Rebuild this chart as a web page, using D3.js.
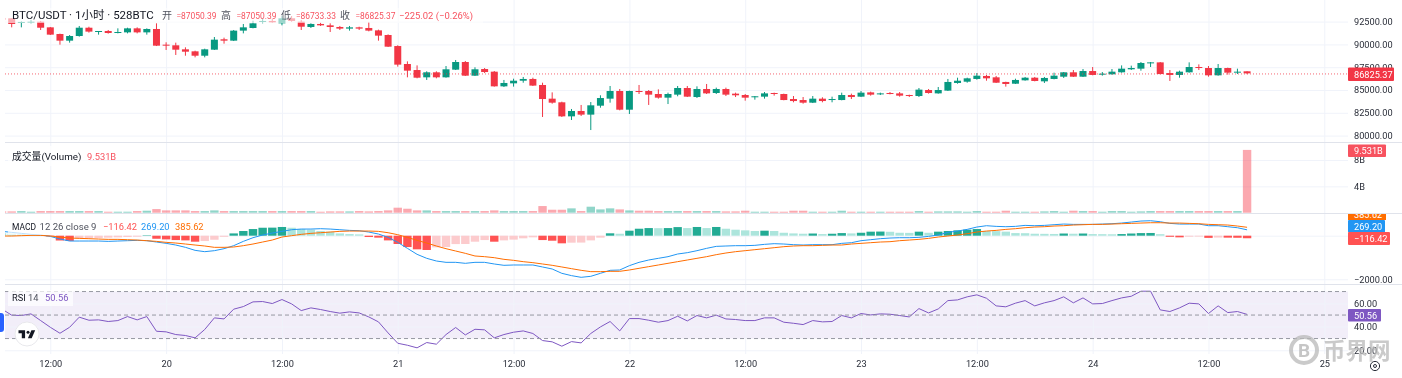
<!DOCTYPE html>
<html>
<head>
<meta charset="utf-8">
<script src="https://cdn.jsdelivr.net/npm/d3@7"></script>
<style>
    html, body { margin: 0; padding: 0; background: #fff; overflow: hidden; }
    svg { display: block; filter: blur(0.4px); }
    text { font-family: Roboto, "Noto Sans CJK SC", sans-serif; }
</style>
</head>
<body>
<div id="chart"></div>
<script>
// candles, one per hour; the first one sits mostly off the left edge
const opens = [
    92900,
    92860,92380,92420,92490,91870,91140,90410,90920,91830,91400,91470,91250,91320,91760,91320,91690,
    89970,89900,89460,89240,88760,89420,90560,90410,91510,91800,92490,92570,92310,92860,92490,91910,
    92240,92090,91910,91730,91870,91800,91540,91030,89820,87850,87190,86390,86940,86390,87230,88070,
    86570,87300,87010,85400,85730,86020,86210,85550,84050,83650,82110,82700,82300,83280,84050,84890,
    82840,84890,84890,84560,84160,84490,85220,84230,85110,84670,85110,84600,84450,84270,84270,84670,
    84560,84010,83900,83610,84050,83940,83900,84450,84270,84740,84520,84670,84630,84450,84340,85000,
    84630,84930,85770,85910,86210,86540,86390,85880,85690,86060,86350,85950,86210,86460,86940,86460,
    87080,86720,86720,86940,87270,87340,87960,88030,86860,86650,86940,87520,87410,86610,87410,86900,87050.39
];
const highs = [
    92950,
    92860,92530,92680,92570,91910,91180,91030,92020,91940,91470,91580,91760,91830,91870,91760,92310,
    90230,90190,89680,89310,89530,90810,90740,91580,92240,92600,92860,92860,93110,93110,92680,92310,
    92380,92310,92020,92020,91940,92460,91620,91100,89900,88140,87700,87050,87050,87630,88290,88180,
    87490,87410,87080,86100,86240,86430,86350,85800,84740,83720,82920,83360,83680,84420,85440,85110,
    84930,85550,85000,85070,84710,85440,85440,85400,85660,85260,85260,84710,84560,84340,84780,84710,
    84600,84340,84230,84340,84200,84270,84710,84600,84890,84820,84710,84780,84780,84490,85220,85110,
    85330,86210,86350,86350,86860,86650,86540,85910,86240,86430,86430,86430,86900,86970,87190,87300,
    87520,86970,87300,87700,87670,88070,88070,88070,87190,87120,88030,87810,87630,87850,87450,87340,87050.39
];
const lows = [
    92500,
    91870,91870,92310,91580,91030,89970,90190,90850,91290,91070,91180,91210,91210,91210,91070,89820,
    89390,88840,88760,88580,88580,89390,90080,90370,91210,91760,92310,92380,92090,92490,91580,91800,
    92020,91360,91580,91510,91580,91430,90410,89720,87560,86390,86280,86100,86280,86350,87190,86540,
    86540,86860,85370,85330,85370,85800,85440,82040,83500,82040,81710,82150,80610,83060,83610,82770,
    82370,84560,83360,84050,83460,84310,84230,84120,84560,84560,84340,84230,83830,83940,84050,84380,
    83870,83650,83500,83570,83650,83650,83870,84010,84230,84380,84450,84520,84270,84230,84230,84600,
    84600,84890,85690,85800,86130,86020,85770,85370,85660,86020,85950,85770,86170,86320,86430,86430,
    86610,86570,86680,86900,87190,87120,87520,86720,85990,86350,86900,87190,86460,86570,86680,86750,86733.33
];
const closes = [
    92700,
    92240,92460,92490,91830,91070,90410,90920,91830,91400,91470,91250,91360,91760,91320,91690,89860,
    89900,89420,89200,88760,89460,90520,90410,91510,91870,92310,92570,92420,92860,92570,91940,92240,
    92090,91910,91730,91870,91730,91510,90960,89750,87780,87120,86350,86940,86390,87270,88070,86570,
    87270,86970,85400,85770,86020,86210,85480,84010,83610,82110,82700,82300,83320,84120,84890,82840,
    84890,84780,84490,84160,84560,85220,84270,85110,84630,85110,84490,84420,84160,84310,84630,84600,
    83900,83790,83610,84050,83790,84010,84450,84230,84710,84490,84630,84600,84380,84380,85040,84670,
    85000,85880,86020,86280,86570,86280,85800,85660,86100,86350,85990,86320,86570,86940,86460,87080,
    86650,86790,87010,87340,87410,87960,88030,86750,86650,87010,87520,87410,86610,87410,86900,87010,86825.37
];

// volume in billions
const volumes = [
    .2,
    .2,.25,.15,.25,.25,.25,.25,.25,.25,.25,.15,.15,.15,.25,.3,.55,.35,.35,.35,.25,.25,.35,.25,.25,.25,.25,
    .25,.25,.25,.25,.25,.25,.15,.2,.2,.2,.25,.2,.25,.35,.76,.6,.35,.35,.25,.25,.25,.25,.25,.25,.35,.25,
    .25,.25,.25,1.01,.45,.45,.66,.25,.91,.5,.66,.5,.35,.3,.3,.25,.25,.25,.25,.25,.25,.25,.2,.2,.3,.15,
    .15,.15,.15,.3,.3,.15,.15,.15,.3,.15,.15,.15,.15,.15,.15,.15,.25,.15,.2,.2,.2,.15,.25,.15,.15,.3,
    .15,.15,.15,.2,.25,.15,.3,.25,.25,.15,.25,.25,.15,.2,.25,.25,.25,.25,.25,.25,.25,.25,.25,.25,9.531
];

const macdLine = [
    199,
    153,107,61,31,-31,-153,-244,-244,-244,-244,-260,-244,-229,-214,-229,-290,-351,-428,-534,-672,-733,-687,
    -596,-458,-260,-92,31,122,199,275,305,305,321,305,275,244,229,168,76,-76,-305,-580,-855,-1038,-1161,
    -1222,-1222,-1267,-1222,-1222,-1298,-1359,-1344,-1344,-1344,-1435,-1527,-1726,-1832,-1909,-1863,-1726,
    -1588,-1573,-1374,-1222,-1115,-1038,-962,-840,-779,-687,-580,-489,-473,-458,-458,-443,-397,-366,-382,
    -412,-428,-412,-412,-412,-351,-321,-229,-183,-137,-107,-92,-92,-76,-31,31,153,214,290,397,458,428,412,
    428,473,458,473,504,534,519,519,519,534,550,580,626,672,687,641,565,534,534,534,458,458,412,366,269.2
];
const signalLine = [
    -15,
    -15,0,15,15,-15,-61,-107,-122,-137,-153,-168,-168,-183,-199,-229,-260,-305,-336,-382,-428,-473,-534,
    -534,-519,-458,-382,-290,-199,-61,0,61,107,137,168,199,214,214,214,199,137,46,-76,-214,-336,-473,-596,
    -702,-809,-931,-962,-1008,-1084,-1130,-1191,-1237,-1298,-1359,-1435,-1512,-1588,-1649,-1649,-1634,-1634,
    -1573,-1496,-1420,-1344,-1267,-1191,-1115,-1038,-962,-870,-794,-733,-687,-641,-596,-550,-504,-473,-458,
    -458,-443,-428,-428,-382,-351,-321,-290,-275,-229,-199,-168,-122,-61,-15,31,92,168,214,244,290,321,366,
    397,412,443,458,489,504,519,519,534,550,565,580,595,595,580,580,565,550,519,504,489,443,385.62
];
const macdHist = [
    110,
    100,80,60,30,-30,-220,-240,-130,-110,-105,-90,-75,-60,-45,20,-140,-170,-200,-215,-275,-245,-185,-50,
    105,215,305,365,370,400,365,305,275,215,185,105,75,60,-60,-90,-215,-380,-520,-625,-655,-535,-520,-385,
    -380,-275,-200,-275,-215,-180,-120,-75,-200,-230,-350,-320,-315,-215,-90,110,90,230,320,350,345,350,395,
    350,400,350,400,320,275,245,215,230,215,135,105,90,100,75,90,120,105,135,185,190,180,135,130,185,135,
    185,215,245,275,305,215,210,185,120,115,90,85,80,100,90,100,75,70,65,75,100,120,125,70,-50,-75,-45,-40,
    -100,-85,-90,-95,-116.42
];
const rsiValues = [
    55,
    49.9,49.6,51,45.3,39.6,34.5,39.6,48.2,45.6,45.9,44.5,45.3,48.7,45.9,48.7,36.2,35.7,33.4,32.6,30.6,37.7,
    47.6,46.7,55,57.2,61.2,61.5,59.8,63.2,59.5,53.8,56.1,54.7,53,51.6,52.7,51.8,48.4,44.2,34.8,26,24.3,22.1,
    26.6,25.2,33.4,39.4,33.1,37.9,37.4,30.6,33.4,35.4,36.5,34.3,28.3,27.2,23.5,27.4,26.3,34.3,39.9,44.5,36.5,
    47,47,45.6,43.9,45.3,49,45,49.6,47.6,49.9,46.7,46.2,45.3,45.3,47.6,47.6,43.9,43,41.9,45.3,44.2,44.5,49.6,
    47.6,51.3,50.1,51,50.7,49.6,48.4,55.5,51.8,55.2,62.3,62.9,65.5,67.2,64.3,57.8,57,60.1,62.3,57.8,60.4,62.3,
    65.5,60.4,64.6,59.5,59.8,62.3,64.6,66,70.3,70.3,54.4,53,56.1,60.1,59.5,51.3,57.8,52.1,53,50.56
];

const timeTicks = [5, 17, 29, 41, 53, 65, 77, 89, 101, 113, 125, 137];
const timeLabels = ["12:00", "20", "12:00", "21", "12:00", "22", "12:00", "23", "12:00", "24", "12:00", "25"];
const priceTicks = [92500, 90000, 87500, 85000, 82500, 80000];
const volumeTicks = [8, 4];
const rsiTicks = [60, 40, 20];
const rsiBands = [70, 50, 30];

const W = 1402, H = 378;
const plotLeft = 5, plotRight = 1348;
const upColor = "#089981", downColor = "#f23645";
const gridColor = "#f0f3fa", sepColor = "#e0e3eb", textColor = "#2a2e39";
const tickFont = "9.2px", valueFont = "9.3px";

const svg = d3.select("#chart").append("svg").attr("width", W).attr("height", H);

const x = d3.scaleLinear().domain([0, 137]).range([2.05, 1324.3]);
const yPrice = d3.scaleLinear().domain([80000, 92500]).range([135.6, 21.6]);
const yVol = d3.scaleLinear().domain([0, 8]).range([212.7, 160]);
const yMacd = d3.scaleLinear().domain([-2000, 0]).range([279.3, 235.7]);
const yRsi = d3.scaleLinear().domain([20, 60]).range([350.3, 303.3]);

svg.append("clipPath").attr("id", "clip-plot").append("rect")
    .attr("x", plotLeft).attr("y", 0).attr("width", plotRight - plotLeft).attr("height", 354);

// RSI band goes under the grid
svg.append("rect")
    .attr("x", plotLeft).attr("width", plotRight - plotLeft)
    .attr("y", yRsi(70)).attr("height", yRsi(30) - yRsi(70))
    .attr("fill", "#7e57c2").attr("opacity", 0.1);

// vertical grid
svg.append("g")
    .attr("transform", "translate(0,354)")
    .call(d3.axisBottom(x).tickValues(timeTicks).tickFormat((d, i) => timeLabels[i]).tickSize(-354).tickPadding(6))
    .call(g => g.select(".domain").remove())
    .call(g => g.selectAll("line").attr("stroke", gridColor))
    .call(g => g.selectAll("text").attr("fill", textColor).style("font-size", tickFont));

// horizontal grids + right hand labels
function rightAxis(scale, ticks, fmt) {
    svg.append("g")
        .attr("transform", `translate(${plotRight},0)`)
        .call(d3.axisRight(scale).tickValues(ticks).tickFormat(fmt).tickSize(-(plotRight - plotLeft)).tickPadding(6))
        .call(g => g.select(".domain").remove())
        .call(g => g.selectAll("line").attr("stroke", gridColor))
        .call(g => g.selectAll("text").attr("fill", textColor).style("font-size", tickFont));
}
rightAxis(yPrice, priceTicks, d => d3.format(".2f")(d));
rightAxis(yVol, volumeTicks, d => d + "B");
rightAxis(yMacd, [-2000], () => "\u22122000.00");
rightAxis(yMacd, [0], () => "");
rightAxis(yRsi, rsiTicks, d => d3.format(".2f")(d));

// pane separators
[142.5, 213.5, 284.5].forEach(py => {
    svg.append("line").attr("x1", plotLeft).attr("x2", 1402).attr("y1", py).attr("y2", py)
        .attr("stroke", sepColor);
});

// candles
const idx = d3.range(opens.length);
const candles = svg.append("g").attr("clip-path", "url(#clip-plot)");
candles.selectAll("line").data(idx).enter().append("line")
    .attr("x1", i => x(i)).attr("x2", i => x(i))
    .attr("y1", i => yPrice(highs[i])).attr("y2", i => yPrice(lows[i]))
    .attr("stroke", i => closes[i] < opens[i] ? downColor : upColor);
candles.selectAll("rect").data(idx).enter().append("rect")
    .attr("x", i => x(i) - 3.5).attr("width", 7)
    .attr("y", i => yPrice(Math.max(opens[i], closes[i])))
    .attr("height", i => Math.max(1, Math.abs(yPrice(opens[i]) - yPrice(closes[i]))))
    .attr("fill", i => closes[i] < opens[i] ? downColor : upColor);

// last price line
const lastClose = closes[closes.length - 1];
svg.append("line")
    .attr("x1", plotLeft).attr("x2", plotRight)
    .attr("y1", yPrice(lastClose) + 0.6).attr("y2", yPrice(lastClose) + 0.6)
    .attr("stroke", downColor).attr("stroke-dasharray", "1 2").attr("opacity", 0.75);

// volume
svg.append("g").attr("clip-path", "url(#clip-plot)")
    .selectAll("rect").data(idx).enter().append("rect")
    .attr("x", i => x(i) - 4.2).attr("width", 8.4)
    .attr("y", i => yVol(volumes[i]))
    .attr("height", i => yVol(0) - yVol(volumes[i]))
    .attr("fill", i => closes[i] < opens[i] ? "#f7525f" : "#22ab94")
    .attr("opacity", 0.5);

// macd histogram, shade depends on the previous bar
function histColor(i) {
    const v = macdHist[i], prev = i > 0 ? macdHist[i - 1] : Infinity;
    if (v >= 0) return v >= prev ? "#22ab94" : "#ace5dc";
    return v < prev ? "#ff5252" : "#fccbcd";
}
svg.append("g").attr("clip-path", "url(#clip-plot)")
    .selectAll("rect").data(idx).enter().append("rect")
    .attr("x", i => x(i) - 4.2).attr("width", 8.4)
    .attr("y", i => Math.min(yMacd(0), yMacd(macdHist[i])))
    .attr("height", i => Math.abs(yMacd(macdHist[i]) - yMacd(0)))
    .attr("fill", histColor);

const macdPath = d3.line().x(i => x(i));
const lines = svg.append("g").attr("clip-path", "url(#clip-plot)");
lines.append("path").datum(idx)
    .attr("d", macdPath.y(i => yMacd(macdLine[i])))
    .attr("fill", "none").attr("stroke", "#2196f3").attr("stroke-width", 1);
lines.append("path").datum(idx)
    .attr("d", macdPath.y(i => yMacd(signalLine[i])))
    .attr("fill", "none").attr("stroke", "#ff6d00").attr("stroke-width", 1);

// rsi
svg.append("g").selectAll("line").data(rsiBands).enter().append("line")
    .attr("x1", plotLeft).attr("x2", plotRight)
    .attr("y1", d => yRsi(d)).attr("y2", d => yRsi(d))
    .attr("stroke", "#9598a1").attr("stroke-dasharray", "4 3");
lines.append("path").datum(idx)
    .attr("d", d3.line().x(i => x(i)).y(i => yRsi(rsiValues[i])))
    .attr("fill", "none").attr("stroke", "#7e57c2").attr("stroke-width", 1);

// legends, washed background over the marks
function legendBox(bx, by, bw, bh, alpha) {
    svg.append("rect").attr("x", bx).attr("y", by).attr("width", bw).attr("height", bh)
        .attr("fill", "#fff").attr("opacity", alpha);
}
// each part is [text, colour, x, font size, fitted width]
function legendText(parts, ly) {
    parts.forEach(p => {
        const t = svg.append("text").attr("x", p[2]).attr("y", ly).attr("fill", p[1])
            .style("font-size", p[3] || valueFont).text(p[0]);
        if (p[4]) t.attr("textLength", p[4]).attr("lengthAdjust", "spacingAndGlyphs");
    });
}
legendBox(5, 8, 478, 15, 0.6);
svg.append("text").attr("x", 12).attr("y", 19).attr("fill", "#131722")
    .style("font-size", "11.5px").text("BTC/USDT \u00b7 1小时 \u00b7 528BTC");
const labelGray = "#50535e", red = "#f7525f";
legendText([
    ["开", labelGray, 162, "10px"], ["=87050.39", red, 176.5, valueFont, 40],
    ["高", labelGray, 221, "10px"], ["=87050.39", red, 236.5, valueFont, 40],
    ["低", labelGray, 281, "10px"], ["=86733.33", red, 296, valueFont, 40],
    ["收", labelGray, 340, "10px"], ["=86825.37", red, 355.5, valueFont, 40],
    ["\u2212225.02 (\u22120.26%)", red, 399, valueFont, 74]
], 19);

legendBox(8, 146, 82, 20, 0.7);
legendText([["成交量(Volume)", "#131722", 12, "9.8px"], ["9.531B", red, 87]], 160);

legendBox(8, 220, 200, 15, 0.7);
legendText([
    ["MACD", "#131722", 12, "9.6px", 24], ["12 26 close 9", labelGray, 39.5, valueFont, 57],
    ["\u2212116.42", "#ff5252", 103], ["269.20", "#2196f3", 141], ["385.62", "#ff6d00", 175]
], 230);

legendBox(8, 290, 65, 16, 0.7);
legendText([["RSI", "#131722", 12], ["14", labelGray, 28], ["50.56", "#7e57c2", 45]], 301);

// value tags on the right edge
function tag(label, top, h, w, color) {
    svg.append("rect").attr("x", plotRight).attr("y", top).attr("width", w).attr("height", h)
        .attr("fill", color).attr("rx", 1);
    svg.append("text").attr("x", plotRight + 6).attr("y", top + h / 2 + 3.3)
        .attr("fill", "#fff").style("font-size", tickFont).text(label);
}
svg.append("clipPath").attr("id", "clip-orange").append("rect")
    .attr("x", plotRight).attr("y", 214).attr("width", 54).attr("height", 6);
svg.append("g").attr("clip-path", "url(#clip-orange)").call(g => {
    g.append("rect").attr("x", plotRight).attr("y", 208).attr("width", 38).attr("height", 13).attr("fill", "#ff6d00");
    g.append("text").attr("x", plotRight + 6).attr("y", 218).attr("fill", "#fff").style("font-size", tickFont).text("385.62");
});
tag("86825.37", 67.5, 13.5, 46, downColor);
tag("9.531B", 144.5, 12.5, 38, "#f7525f");
tag("269.20", 220, 12.5, 37, "#2196f3");
tag("\u2212116.42", 232, 13, 42, "#ff5252");
tag("50.56", 309, 12.5, 33, "#7e57c2");

// blue tab on the left edge and TV badge
svg.append("rect").attr("x", -6).attr("y", 313).attr("width", 10).attr("height", 19).attr("rx", 3).attr("fill", "#2962ff");
svg.append("circle").attr("cx", 27).attr("cy", 334).attr("r", 12)
    .attr("fill", "#fff").attr("stroke", "#e8e8ec");
svg.append("path").attr("transform", "translate(18.5,327.5) scale(0.47)")
    .attr("d", "M14 6H0v6h7v11h7V6zM28 23h-8l7.5-17h8L28 23z").attr("fill", "#131722");
svg.append("circle").attr("cx", 28).attr("cy", 332.2).attr("r", 1.5).attr("fill", "#131722");

// site watermark
svg.append("circle").attr("cx", 1304).attr("cy", 350).attr("r", 13)
    .attr("fill", "none").attr("stroke", "#b8b8b8").attr("stroke-width", 4).attr("opacity", 0.75);
svg.append("text").attr("x", 1304).attr("y", 357).attr("text-anchor", "middle")
    .attr("fill", "#b8b8b8").attr("opacity", 0.8).style("font-size", "19px").style("font-weight", 700).text("B");
svg.append("text").attr("x", 1323).attr("y", 359)
    .attr("fill", "#b8b8b8").attr("opacity", 0.75).style("font-size", "22.5px").style("font-weight", 700)
    .text("币界网");

// settings gear
svg.append("circle").attr("cx", 1375).attr("cy", 366).attr("r", 4.6)
    .attr("fill", "none").attr("stroke", "#2a2e39");
svg.append("circle").attr("cx", 1375).attr("cy", 366).attr("r", 1.5)
    .attr("fill", "none").attr("stroke", "#2a2e39");
</script>
</body>
</html>
